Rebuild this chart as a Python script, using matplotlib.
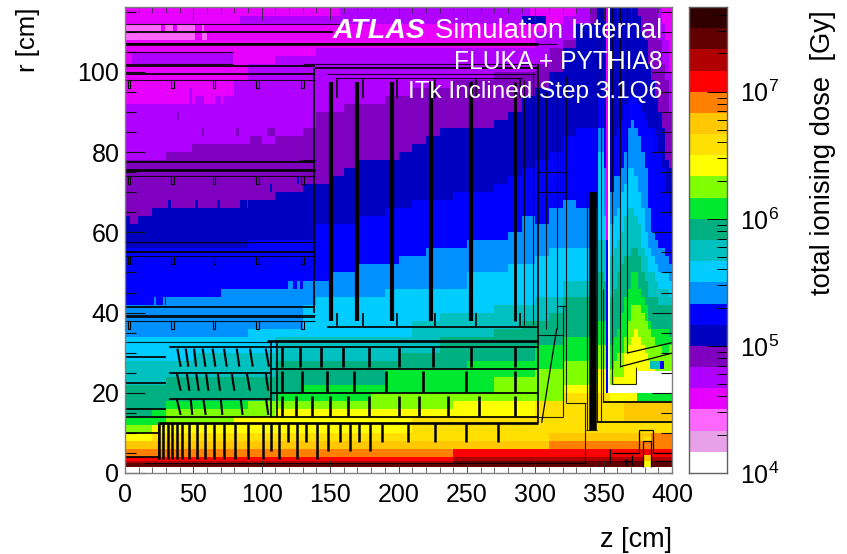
import numpy as np
import matplotlib
matplotlib.use("Agg")
import matplotlib.pyplot as plt
from matplotlib.colors import BoundaryNorm, ListedColormap

plt.rcParams["font.family"] = ["Liberation Sans", "DejaVu Sans"]
plt.rcParams["mathtext.fontset"] = "custom"
plt.rcParams["mathtext.rm"] = "Liberation Sans"

W, H = 847, 554
AX_L, AX_R, AX_T, AX_B = 125, 672, 7, 473
Z_MAX, R_MAX = 400.0, 116.2

# one colour per dose step, six steps per decade starting at 1e4 Gy
level_colors = [
    "#ffffff", "#e8a0e8", "#ff66ff", "#e800ff", "#b000ff", "#8000c0",
    "#0000c0", "#0000ff", "#0090ff", "#00ccff", "#00c0c0", "#00b080",
    "#00e830", "#80ff00", "#ffff00", "#ffe000", "#ffc800", "#ff8000",
    "#ff0000", "#b00000", "#600000", "#300000",
]
WHITE, PLUM, PINK, MAG, PUR, DPUR, DBLUE, BLUE, AZURE, CYAN, TEAL, SEA, GREEN, LIME, YEL, P, Q, ORA, RED, T, U = range(21)

# column edges [cm]
z_edges = [0, 10, 20, 30, 40, 50, 60, 70, 80, 90, 100, 110, 120, 130, 140, 150, 160,
           170, 180, 190, 200, 210, 220, 230, 240, 250, 260, 270, 280, 290, 300, 310,
           320, 330, 340, 345, 350, 352, 353.5, 355, 357.5, 360, 362.5, 365, 367.5,
           370, 372.5, 375, 377.5, 380, 382.5, 385, 387.5, 390, 392.5, 395, 397.5, 400]

# upper r edge [cm] of each dose level, per z column: barrel part (z < 340)
top_pur = [92] * 8 + [98, 102, 102, 104, 104, 104] + [106] * 16 + [110, 112, 114, 116]
top_dpur = [78, 78, 78, 80, 80, 80, 80, 80, 82, 82, 82, 84, 84, 86, 90, 90, 92, 92, 92,
            94, 94, 96, 96, 96, 98, 98, 98, 100, 100, 100, 102, 106, 108, 110]
top_dblue = [64, 64, 66, 66, 66, 66, 66, 66, 66, 68, 68, 70, 70, 72, 72, 74, 76, 78, 78,
             78, 80, 82, 84, 86, 86, 86, 86, 88, 90, 94, 96, 100, 106, 112]
top_blue = [56] * 9 + [58] * 5 + [62] * 3 + [64, 64, 66, 66, 68, 68, 68, 70, 70, 70, 72,
                                             74, 76, 78, 80, 84, 86]
top_azure = [42, 42, 42, 44, 44, 44, 44, 46, 46, 46, 46, 46, 46, 48, 48, 50, 50, 52, 52,
             52, 54, 54, 56, 56, 56, 58, 58, 58, 60, 64, 62, 66, 68, 66]
top_cyan = [34] * 9 + [36] * 4 + [42] + [44] * 5 + [46] * 6 + [50, 50, 50, 52, 52, 54, 56, 56, 56]
top_teal = [28] * 5 + [30] * 6 + [34] * 10 + [38, 38, 40, 40, 40, 40, 42, 42, 42, 44, 44, 48, 48]
top_sea = [22] * 3 + [24] * 8 + [28] * 9 + [30, 30, 30, 34, 34, 34, 34, 36, 36, 38, 38, 40, 44, 44]
top_green = [14, 14, 16] + [18] * 8 + [20, 20] + [22] * 6 + [26] * 6 + [28] * 5 + [32, 32, 34, 34]
top_lime = [12, 12, 12] + [16] * 6 + [18] * 9 + [20] * 9 + [24, 24, 24, 26, 26, 28, 28]
top_yel = [10, 10] + [12] * 6 + [14] * 3 + [16] * 13 + [18] * 8 + [22, 22]
top_p = [8, 8] + [10] * 19 + [14] * 9 + [18, 18, 20, 20]
top_q = [8] * 31 + [10, 10, 10]
top_ora = [6] * 31 + [8, 8, 8]
top_red = [4] * 24 + [6] * 10
top_t = [3] * 24 + [4] * 10
top_u = [2.5] * 24 + [3] * 10

# same, for the 5 narrow columns round the wall and the 18 endcap columns
top_pur_e = [116, 116, 116, 58, 58] + [116] * 14 + [116, 112, 108, 100]
top_dpur_e = [116, 116, 116, 58, 58] + [116] * 14 + [108, 102, 98, 90]
top_dblue_e = [112, 116, 116, 58, 58] + [116] * 8 + [114, 110, 108, 102, 98, 94, 90, 86, 78, 76]
top_blue_e = [86, 94, 86, 58, 58, 70, 84, 86, 88, 92, 94, 94, 94, 92, 90, 88, 86, 86, 84, 80, 76, 70, 64]
top_azure_e = [66, 86, 76, 20, 20, 70, 74, 74, 76, 80, 86, 88, 86, 84, 80, 76, 66, 60, 58, 56, 56, 54, 52]
top_cyan_e = [56, 80, 64, 20, 20, 62, 64, 66, 70, 72, 76, 76, 74, 70, 66, 60, 56, 54, 52, 50, 50, 50, 48]
top_teal_e = [48, 58, 58, 20, 20, 54, 56, 58, 60, 64, 66, 66, 64, 62, 56, 54, 50, 50, 48, 46, 46, 46, 44]
top_sea_e = [44, 50, 48, 20, 20, 44, 46, 50, 52, 54, 54, 56, 56, 54, 50, 48, 44, 44, 44, 42, 42, 42, 42]
top_green_e = [34, 38, 38, 20, 20, 32, 34, 36, 40, 44, 46, 50, 50, 46, 44, 42, 38, 36, 36, 36, 36, 36, 34]
top_lime_e = [28, 32, 32, 20, 20, 26, 28, 30, 30, 34, 38, 42, 42, 42, 40, 38, 36, 34, 32, 32, 30, 30, 32]
top_yel_e = [22, 26, 26, 20, 20, 20, 24, 24, 24, 30, 32, 34, 36, 34, 32, 30, 28, 28, 20, 20, 20, 20, 20]
top_p_e = [18, 20, 20, 20, 20] + [18] * 18
top_q_e = [10] * 9 + [18] * 14
top_ora_e = [8] * 17 + [10] * 6
top_red_e = [6] * 23
top_t_e = [4] * 23
top_u_e = [3] * 23

level_tops = [
    (PUR, top_pur + top_pur_e), (DPUR, top_dpur + top_dpur_e), (DBLUE, top_dblue + top_dblue_e),
    (BLUE, top_blue + top_blue_e), (AZURE, top_azure + top_azure_e), (CYAN, top_cyan + top_cyan_e),
    (TEAL, top_teal + top_teal_e), (SEA, top_sea + top_sea_e), (GREEN, top_green + top_green_e),
    (LIME, top_lime + top_lime_e), (YEL, top_yel + top_yel_e), (P, top_p + top_p_e),
    (Q, top_q + top_q_e), (ORA, top_ora + top_ora_e), (RED, top_red + top_red_e),
    (T, top_t + top_t_e), (U, top_u + top_u_e),
]

# (z0, z1, r0, r1, level) areas that break the layering above
dose_patches = [
    (84, 296, 112, 114, PUR), (157, 296, 114, 116.2, PUR), (290, 308, 112, 114, DBLUE),
    (1, 26, 110, 112, PINK), (29, 35, 110, 112, PINK), (38, 51, 110, 112, PINK), (56, 58, 110, 112, PINK),
    (1, 51, 108, 110, PINK), (56, 60, 108, 110, PINK), (5, 79, 102, 105, PUR),
    (355, 374.5, 18, 20, YEL), (374.5, 400, 18, 20, GREEN), (360, 400, 10, 13, P),
    (355, 374.5, 20, 22, WHITE), (374.5, 400, 20, 25.5, WHITE), (353.5, 355, 20, 116.2, WHITE),
    (391, 394, 26, 28, BLUE), (384, 391, 26, 28, TEAL),
    (379, 385, 1.5, 3, YEL), (379, 385, 3, 4.5, Q), (379, 385, 4.5, 6, RED),
    (379, 385, 6, 8, ORA), (379, 385, 8, 9, P),
    # single bins sticking out of a level
    (46.3, 48.8, 92, 96, PUR), (51.2, 57.3, 92, 94, PUR), (65.8, 70.7, 92, 94, PUR), (71.9, 81.7, 92, 94, PUR),
    (84.1, 87.8, 94, 96, PUR), (91.4, 96.3, 94, 96, PUR),
    (37.8, 39.7, 88, 90, DPUR), (56.1, 57.3, 84, 86, DPUR), (81.7, 83.6, 84, 86, DPUR), (91.4, 100, 82, 84, DPUR),
    (104.1, 109.7, 84, 86, DPUR), (48.8, 87.8, 80, 82, DPUR),
    (31.7, 33.6, 66, 68, DBLUE), (51.2, 53.6, 66, 68, DBLUE), (67.5, 69.5, 64, 68, DBLUE), (84.1, 89, 66, 68, DBLUE),
    (106, 107.3, 70, 72, DBLUE), (125.6, 127.3, 72, 74, DBLUE), (3.7, 9.7, 62, 64, DPUR),
    (21.5, 23.2, 42, 44, AZURE), (27.5, 29.3, 42, 44, AZURE), (45.8, 49.5, 42, 44, AZURE), (79.2, 81.7, 44, 46, AZURE),
    (91.4, 100, 44, 46, AZURE), (119.5, 123.1, 46, 48, AZURE), (125.6, 128, 46, 48, AZURE), (130, 134, 46, 48, AZURE),
]

# detector outline [cm]: horizontal (r, z0, z1), vertical (z, r0, r1), free (z0, r0, z1, r1)
hlines_thin = [
    (112, 0, 160), (102, 0, 79), (105, 0, 79), (102, 130, 300), (99.5, 148, 300), (98.5, 155, 290),
    (98, 0, 139), (78, 128, 139), (74, 0, 139), (57.5, 0, 139), (54, 0, 139), (39.5, 0, 139),
    (38, 0, 139), (32.7, 0, 106), (75, 302, 322.5), (70, 302, 322.5), (107, 302, 316),
    (41.6, 315.7, 322.5), (14, 302, 320), (34.4, 302, 320), (17.5, 322.5, 337), (10.7, 337, 345),
    (22.3, 356, 374), (2.5, 14, 337),
]
hlines_med = [
    (110, 0, 152), (107, 0, 302), (101.5, 0, 139), (99.5, 0, 139), (101, 139, 302), (77.5, 0, 139),
    (55, 0, 139), (41.5, 0, 139), (39, 0, 139), (36.5, 148, 302), (31.5, 32, 106), (29, 0, 30),
    (25, 32, 106), (22.5, 0, 30), (18.5, 32, 106), (16, 0, 30), (31.5, 106, 302), (26, 106, 302),
    (20, 106, 302), (14, 0, 302), (10, 0, 25), (4, 0, 25), (12.6, 345, 400), (17.7, 349.7, 400),
]
hlines_thick = [(75.5, 0, 139), (33, 104, 302), (12.5, 24.4, 302), (107, 0, 302)]
vlines_thin = [
    (292, 37, 98), (298.5, 37, 100), (308, 36, 95), (315.7, 36, 100), (322.5, 17.5, 99), (336.4, 2.5, 17.5),
    (337.6, 10.7, 70), (320, 14, 41.6), (345.5, 12.6, 116.2), (348, 12.6, 116.2), (349.7, 17.7, 46),
    (356, 22.3, 116.2), (362, 26.5, 116.2), (367, 29.9, 116.2), (374, 22.3, 26.5), (24.4, 3.5, 12.5),
]
vlines_med = [(138.5, 40, 101), (301.8, 12.5, 102), (106.5, 14, 33), (111.4, 14, 33)]
free_thin = [(315.7, 36, 304.7, 12.5), (362, 26.5, 400, 29.9), (367, 29.9, 400, 32.5)]

# carbon-fibre discs and staves
disc_z = [151, 169.8, 195, 223.5, 253]
disc_r = (38, 97.5)
wall_bars = [(285, 38, 97.5), (342, 10.7, 70)]
stub_z = [155, 174, 199, 227, 257, 289]
stub_top_r = (93.5, 98.5)
stub_low_r = (36.5, 40)

ring1_z = [114.6, 128, 143, 159.6, 178.6, 200.5, 225, 253, 285]
ring2_z = [114.6, 129.4, 147.5, 167.5, 191, 218, 249, 285]
ring3_z = [114.6, 124.8, 136.5, 150, 163.3, 178.6, 200.5, 215, 236, 259, 285]
ring_r = [(26.5, 31.5), (20.2, 25.5), (14.2, 19.2)]

incl1 = [(38.3, 40.7), (44.4, 46.3), (50.5, 52), (56.8, 58.8), (64.1, 66.1), (72.4, 74.4), (81.7, 83.6), (91.4, 93.4), (102.9, 105.3)]
incl2 = [(37.8, 40.7), (45.1, 47.1), (52, 53.9), (59.2, 61), (67.8, 69.5), (78, 80), (89, 91.4), (102.9, 104.8)]
incl3 = [(37.8, 40.7), (48, 49.2), (57.3, 59), (70, 71.2), (84.6, 86), (103.1, 104.8)]
incl_r = [(31, 26.5), (25, 20.5), (18.5, 14.5)]

inner_long_z = [25.1, 28, 31.2, 34.1, 37.8, 42, 46.8, 52.4, 58.5, 65.1, 72.4, 80.5, 89.7, 100.7, 112.6, 125.6, 140.2]
inner_mid_z = [106.5, 148.2, 164.6, 179.2]
inner_short_z = [119, 132.4, 157.3, 171.4, 187.7, 207.2, 226.7, 249.1, 273]
inner_ends = (3.5, 5.5, 7.7)
inner_top = 12.5

bracket_z = [3, 35, 65, 97, 130]
bracket_r = [98, 74, 54, 38]

beam_box = [(376, 10.7, 376, 5), (376, 10.7, 386, 10.7), (386, 10.7, 386, 5), (376, 5, 356, 5), (386, 5, 400, 5),
            (379, 1.5, 379, 8), (385, 1.5, 385, 8), (379, 8, 385, 8), (355, 2.5, 355, 6), (371, 2, 371, 4.5),
            (366, 2, 366, 3.5), (364, 3, 371, 3), (387, 3, 400, 3)]

cbar_ticks = [1e4, 1e5, 1e6, 1e7]
cbar_labels = [r"$\mathregular{10^{4}}$", r"$\mathregular{10^{5}}$", r"$\mathregular{10^{6}}$", r"$\mathregular{10^{7}}$"]


def px_rect(left, right, top, bottom):
    return [left / W, 1 - bottom / H, (right - left) / W, (bottom - top) / H]


def main():
    fig = plt.figure(figsize=(W / 100, H / 100), dpi=100)
    ax = fig.add_axes(px_rect(AX_L, AX_R, AX_T, AX_B))
    cax = fig.add_axes(px_rect(689, 727, AX_T, AX_B))

    # paint the levels into a fine grid
    z_grid = np.arange(0, 400.5, 0.5)
    r_grid = np.arange(0, 117, 0.5)
    z_mid = z_grid[:-1] + 0.25
    r_mid = r_grid[:-1] + 0.25
    col = np.searchsorted(z_edges, z_mid) - 1
    levels = np.full((len(r_mid), len(z_mid)), MAG)
    for level, tops in level_tops:
        tops = np.array(tops)[col]
        levels[r_mid[:, None] < tops[None, :]] = level
    for z0, z1, r0, r1, level in dose_patches:
        zm = (z_mid > z0) & (z_mid < z1)
        rm = (r_mid > r0) & (r_mid < r1)
        levels[np.ix_(rm, zm)] = level
    levels[r_mid < 1.5, :] = WHITE
    dose = 10 ** (4 + (levels + 0.5) / 6)

    edges = 10 ** (4 + np.arange(len(level_colors) + 1) / 6)
    cmap = ListedColormap(level_colors)
    norm = BoundaryNorm(edges, cmap.N)
    ax.pcolormesh(z_grid, r_grid, dose, cmap=cmap, norm=norm, antialiased=False)

    # detector outline
    line_kw = dict(color="black", solid_capstyle="butt")
    for r, z0, z1 in hlines_thin:
        ax.plot([z0, z1], [r, r], lw=0.8, alpha=0.85, **line_kw)
    for r, z0, z1 in hlines_med:
        ax.plot([z0, z1], [r, r], lw=1.25, **line_kw)
    for r, z0, z1 in hlines_thick:
        ax.plot([z0, z1], [r, r], lw=1.9, **line_kw)
    for z, r0, r1 in vlines_thin:
        ax.plot([z, z], [r0, r1], lw=0.8, alpha=0.85, **line_kw)
    for z, r0, r1 in vlines_med:
        ax.plot([z, z], [r0, r1], lw=1.2, **line_kw)
    for z0, r0, z1, r1 in free_thin + beam_box:
        ax.plot([z0, z1], [r0, r1], lw=0.9, **line_kw)
    for z in disc_z:
        ax.plot([z, z], disc_r, lw=3.0, **line_kw)
    ax.plot([wall_bars[0][0]] * 2, wall_bars[0][1:], lw=2.0, **line_kw)
    ax.plot([wall_bars[1][0]] * 2, wall_bars[1][1:], lw=5.4, **line_kw)
    for z in stub_z:
        ax.plot([z, z], stub_top_r, lw=1.2, **line_kw)
        ax.plot([z, z], stub_low_r, lw=1.2, **line_kw)
    for zs, (r0, r1) in zip([ring1_z, ring2_z, ring3_z], ring_r):
        for z in zs:
            ax.plot([z, z], [r0, r1], lw=1.9, **line_kw)
    for mods, (r0, r1) in zip([incl1, incl2, incl3], incl_r):
        for z0, z1 in mods:
            ax.plot([z0, z1], [r0, r1], lw=1.5, **line_kw)
    for zs, end in zip([inner_long_z, inner_mid_z, inner_short_z], inner_ends):
        for z in zs:
            ax.plot([z, z], [inner_top, end], lw=1.8, **line_kw)
    for r in bracket_r:
        for z in bracket_z:
            ax.plot([z - 1, z - 1, z + 1, z + 1], [r, r - 2, r - 2, r], lw=0.8, **line_kw)

    ax.set_xlim(0, Z_MAX)
    ax.set_ylim(0, R_MAX)
    ax.set_xticks(np.arange(0, 401, 50))
    ax.set_xticks(np.arange(0, 401, 10), minor=True)
    ax.set_yticks(np.arange(0, 101, 20))
    ax.set_yticks(np.arange(0, 116, 5), minor=True)
    ax.tick_params(axis="x", which="major", direction="in", length=9.5, width=0.6, top=True,
                   labelsize=18, pad=7, color="#303030")
    ax.tick_params(axis="x", which="minor", direction="in", length=4, width=0.5, top=True, color="#303030")
    ax.tick_params(axis="y", which="major", direction="in", length=14.5, width=0.8, right=True,
                   labelsize=18, pad=4, color="#101010")
    ax.tick_params(axis="y", which="minor", direction="in", length=8, width=0.8, right=True, color="#101010")
    for spine in ax.spines.values():
        spine.set_color("#808080")
        spine.set_linewidth(1.0)

    # colour scale
    cax.pcolormesh([0, 1], edges, np.sqrt(edges[:-1] * edges[1:])[:, None],
                   cmap=cmap, norm=norm, antialiased=False)
    cax.set_yscale("log")
    cax.set_ylim(edges[0], edges[-1])
    cax.set_xlim(0, 1)
    cax.set_xticks([])
    cax.yaxis.tick_right()
    cax.set_yticks(cbar_ticks)
    cax.set_yticklabels(cbar_labels)
    cax.tick_params(axis="y", which="major", direction="in", length=14.5, width=0.7, labelsize=18, pad=9)
    cax.tick_params(axis="y", which="minor", direction="in", length=7, width=0.7, labelright=False)
    for spine in cax.spines.values():
        spine.set_color("#606060")
        spine.set_linewidth(1.0)

    # labels
    fig.text(28 / W, 1 - 7 / H, "r [cm]", rotation=90, ha="center", va="top", fontsize=18.5)
    fig.text(672 / W, 1 - 540 / H, "z [cm]", ha="right", va="center", fontsize=19.5)
    fig.text(823 / W, 1 - 10 / H, "total ionising dose  [Gy]", rotation=90, ha="center", va="top", fontsize=19.7)
    fig.text(662 / W, 1 - 31 / H, "Simulation Internal", ha="right", va="center", fontsize=19.8, color="white")
    fig.text(425 / W, 1 - 31 / H, "ATLAS", ha="right", va="center", fontsize=20.5, color="white",
             fontweight="bold", fontstyle="italic")
    fig.text(662 / W, 1 - 62 / H, "FLUKA + PYTHIA8", ha="right", va="center", fontsize=17.7, color="white")
    fig.text(662 / W, 1 - 92 / H, "ITk Inclined Step 3.1Q6", ha="right", va="center", fontsize=17.6, color="white")

    fig.savefig("out.png", dpi=100)


if __name__ == "__main__":
    main()
